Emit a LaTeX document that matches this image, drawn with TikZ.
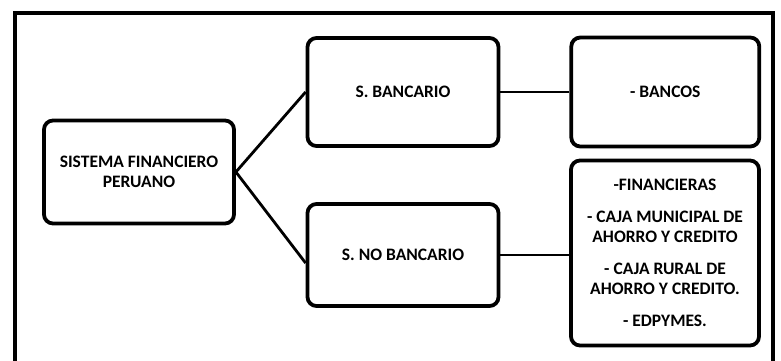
\documentclass[tikz,border=0pt]{standalone}
\usepackage{fontspec}
\setmainfont{Carlito}
\usetikzlibrary{positioning}

\begin{document}
\begin{tikzpicture}[
  x=1pt,y=-1pt,
  box/.style={
    draw,
    line width=3.8pt,
    rounded corners=9pt,
    align=center,
    inner sep=0pt,
    font=\fontsize{17.5}{19.5}\selectfont\bfseries
  },
  link/.style={line width=2.8pt}
]
  \useasboundingbox (0,0) rectangle (781,361);
  \clip (0,0) rectangle (781,361);
  \draw[line width=4.5pt] (15,13) rectangle (773,380);
  \node[box,minimum width=190pt,minimum height=103pt] (sfp) at (139,172) {SISTEMA FINANCIERO\\PERUANO};
  \node[box,minimum width=191pt,minimum height=108pt] (sb) at (403,92) {S. BANCARIO};
  \node[box,minimum width=191pt,minimum height=102pt] (snb) at (403,255) {S. NO BANCARIO};
  \node[box,minimum width=188pt,minimum height=109pt,right=69pt of sb] (bancos) {- BANCOS};
  \node[box,minimum width=188pt,minimum height=185pt] (otros) at (665,253) {-FINANCIERAS\\[13pt]- CAJA MUNICIPAL DE\\AHORRO Y CREDITO\\[13pt]- CAJA RURAL DE\\AHORRO Y CREDITO.\\[13pt]- EDPYMES.};
  \draw[link] (sfp.east) -- (sb.west);
  \draw[link] (sfp.east) -- ([yshift=-8pt]snb.west);
  \draw[link] (sb) -- (bancos);
  \draw[link] (snb) -- (snb -| otros.west);
\end{tikzpicture}
\end{document}
